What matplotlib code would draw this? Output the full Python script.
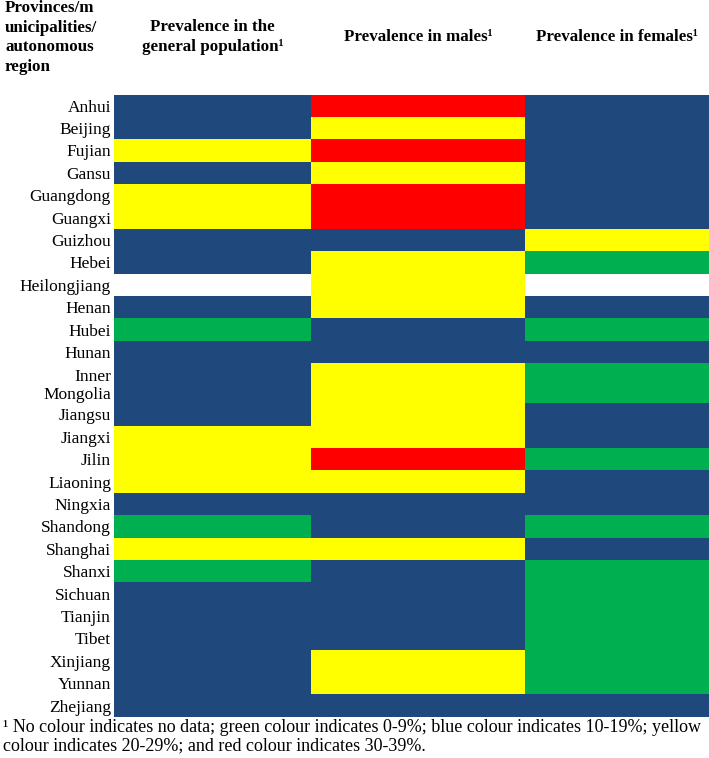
import matplotlib
matplotlib.use("Agg")
import matplotlib.pyplot as plt
import numpy as np

# ---------------- data ----------------
provinces = ["Anhui", "Beijing", "Fujian", "Gansu", "Guangdong", "Guangxi", "Guizhou",
             "Hebei", "Heilongjiang", "Henan", "Hubei", "Hunan", "Inner\nMongolia",
             "Jiangsu", "Jiangxi", "Jilin", "Liaoning", "Ningxia", "Shandong", "Shanghai",
             "Shanxi", "Sichuan", "Tianjin", "Tibet", "Xinjiang", "Yunnan", "Zhejiang"]

columns = ["Prevalence in the\ngeneral population¹", "Prevalence in males¹",
           "Prevalence in females¹"]

# prevalence category: G = 0-9%, B = 10-19%, Y = 20-29%, R = 30-39%, None = no data
general = ["B", "B", "Y", "B", "Y", "Y", "B", "B", None, "B", "G", "B", "B",
           "B", "Y", "Y", "Y", "B", "G", "Y", "G", "B", "B", "B", "B", "B", "B"]
males = ["R", "Y", "R", "Y", "R", "R", "B", "Y", "Y", "Y", "B", "B", "Y",
         "Y", "Y", "R", "Y", "B", "B", "Y", "B", "B", "B", "B", "Y", "Y", "B"]
females = ["B", "B", "B", "B", "B", "B", "Y", "G", None, "B", "G", "B", "G",
           "B", "B", "G", "B", "B", "G", "B", "G", "G", "G", "G", "G", "G", "B"]

footnote = ("¹ No colour indicates no data; green colour indicates 0-9%; blue colour indicates 10-19%; yellow\n"
            "colour indicates 20-29%; and red colour indicates 30-39%.")

# ---------------- style ----------------
palette = {"G": "#00B050", "B": "#1F497D", "Y": "#FFFF00", "R": "#FF0000"}
row_heights = [1.786 if "\n" in p else 1.0 for p in provinces]

W, H = 709, 758
DPI = 100
fig = plt.figure(figsize=(W / DPI, H / DPI), dpi=DPI)
plt.rcParams["font.family"] = ["Liberation Serif", "DejaVu Serif"]

def px(v):
    return v * 72 / DPI

left, right, top, bottom = 114, 709, 94.5, 716.7
col_edges_px = [114, 311, 525, 709]
ax = fig.add_axes([left / W, 1 - bottom / H, (right - left) / W, (bottom - top) / H])

heights = np.array(row_heights)
edges = np.concatenate([[0], np.cumsum(heights)])
centers = (edges[:-1] + edges[1:]) / 2

for ci, series in enumerate([general, males, females]):
    idx = [i for i, v in enumerate(series) if v is not None]
    x0 = col_edges_px[ci] - left
    w = col_edges_px[ci + 1] - col_edges_px[ci]
    ax.barh(centers[idx], width=w, left=x0, height=heights[idx],
            color=[palette[series[i]] for i in idx], align="center",
            linewidth=0, antialiased=False)

ax.set_xlim(0, right - left)
ax.set_ylim(edges[-1], 0)
ax.set_xticks([])
ax.set_yticks(centers)
ax.set_yticklabels(provinces, fontsize=px(17.4), linespacing=1.17)
ax.tick_params(axis="y", length=0, pad=px(3))
for s in ax.spines.values():
    s.set_visible(False)

# column headers
for ci, lab in enumerate(columns):
    cx = (col_edges_px[ci] + col_edges_px[ci + 1]) / 2
    fig.text(cx / W, 1 - 37 / H, lab, ha="center", va="center", fontsize=px(17),
             fontweight="bold", linespacing=1.32)

fig.text(5 / W, 1 - 0 / H, "Provinces/m\nunicipalities/\nautonomous\nregion",
         ha="left", va="top", fontsize=px(17), fontweight="bold", linespacing=1.3)

fig.text(3 / W, 1 - 737 / H, footnote, ha="left", va="center", fontsize=px(18),
         linespacing=1.1)

fig.savefig("out.png", dpi=DPI)
